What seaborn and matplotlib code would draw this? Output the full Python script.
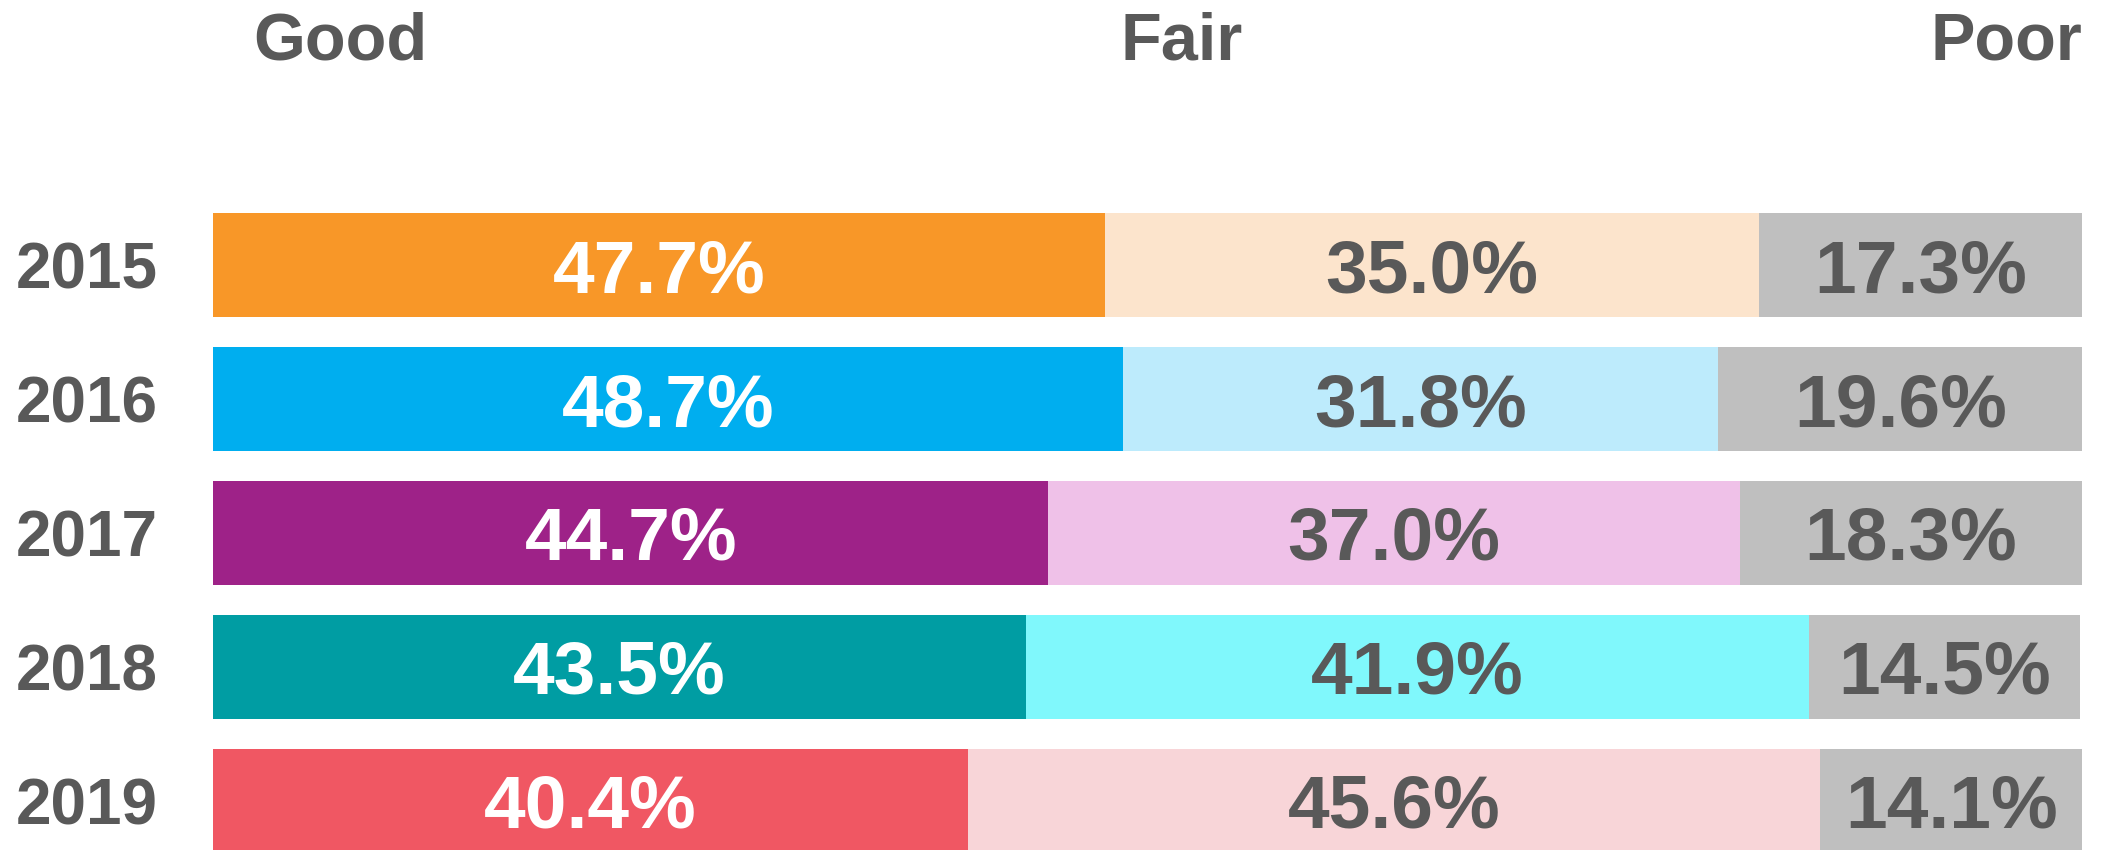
import matplotlib
matplotlib.use("Agg")
import matplotlib.pyplot as plt
import seaborn as sns
import pandas as pd
import numpy as np

years = ["2015", "2016", "2017", "2018", "2019"]
good = [47.7, 48.7, 44.7, 43.5, 40.4]
fair = [35.0, 31.8, 37.0, 41.9, 45.6]
poor = [17.3, 19.6, 18.3, 14.5, 14.1]
categories = ["Good", "Fair", "Poor"]

good_colors = ["#F89728", "#00AEEF", "#9E2288", "#009DA3", "#F05763"]
fair_colors = ["#FCE4CC", "#BDEBFC", "#EFC1E8", "#80F8FC", "#F8D5D8"]
poor_color = "#BFBFBF"
text_grey = "#595959"

sns.set_theme(style="white")
plt.rcParams["font.family"] = ["Liberation Sans", "DejaVu Sans"]

df = pd.DataFrame({"year": years, "good": good, "fair": fair, "poor": poor})
df["good_fair"] = df["good"] + df["fair"]
df["total"] = df["good_fair"] + df["poor"]

fig = plt.figure(figsize=(21.04, 8.5), dpi=100)
# axes spans the bar area horizontally and the full height
ax = fig.add_axes([213 / 2104, 0, (2082 - 213) / 2104, 1])

# stacked bars: draw from the full length down to the first segment
sns.barplot(data=df, x="total", y="year", order=years, color=poor_color,
            width=0.776, orient="h", ax=ax, saturation=1)
sns.barplot(data=df, x="good_fair", y="year", order=years, hue="year",
            palette=dict(zip(years, fair_colors)), legend=False,
            width=0.776, orient="h", ax=ax, saturation=1)
sns.barplot(data=df, x="good", y="year", order=years, hue="year",
            palette=dict(zip(years, good_colors)), legend=False,
            width=0.776, orient="h", ax=ax, saturation=1)

for p in ax.patches:
    p.set_linewidth(0)

ax.set_xlim(0, 100)
ax.set_ylim(4.366, -1.978)

for i in range(len(years)):
    g, f, pr = good[i], fair[i], poor[i]
    ax.text(g / 2, i, f"{g:.1f}%", ha="center", va="center_baseline",
            color="white", fontsize=54, fontweight="bold")
    ax.text(g + f / 2, i, f"{f:.1f}%", ha="center", va="center_baseline",
            color=text_grey, fontsize=54, fontweight="bold")
    ax.text(g + f + pr / 2, i, f"{pr:.1f}%", ha="center", va="center_baseline",
            color=text_grey, fontsize=54, fontweight="bold")

# column headers
ax.text(6.8, -1.71, categories[0], ha="center", va="center_baseline",
        color=text_grey, fontsize=48, fontweight="bold")
ax.text(51.8, -1.71, categories[1], ha="center", va="center_baseline",
        color=text_grey, fontsize=48, fontweight="bold")
ax.text(100, -1.71, categories[2], ha="right", va="center_baseline",
        color=text_grey, fontsize=48, fontweight="bold")

ax.set_xlabel("")
ax.set_ylabel("")
ax.set_xticks([])
ax.set_yticks(range(len(years)))
ax.set_yticklabels(years, fontsize=46, fontweight="bold", color=text_grey)
ax.tick_params(axis="y", length=0, pad=40)
sns.despine(ax=ax, left=True, bottom=True)

fig.savefig("out.png", dpi=100)
